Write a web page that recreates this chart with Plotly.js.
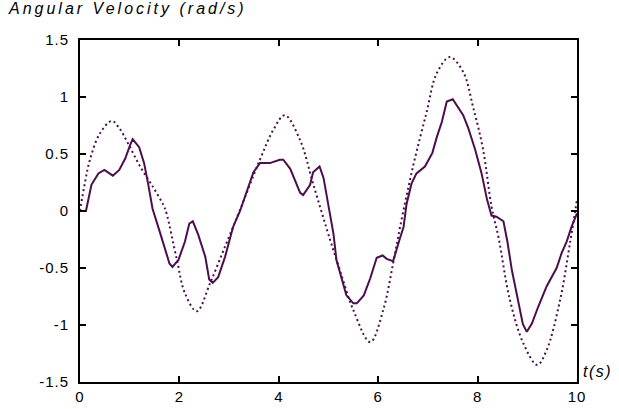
<!DOCTYPE html>
<html>
<head>
<meta charset="utf-8">
<script src="https://cdn.plot.ly/plotly-3.0.1.min.js"></script>
<style>
html,body{margin:0;padding:0;background:#fff;}
#chart{width:619px;height:409px;}
</style>
</head>
<body>
<div id="chart"></div>
<script>
// Measured angular velocity (solid)
const tMeasured = [0, 0.12, 0.23, 0.37, 0.49, 0.66, 0.79, 0.91, 1.01, 1.06, 1.19, 1.29, 1.37, 1.46, 1.61, 1.80, 1.86, 1.98, 2.11, 2.20, 2.27, 2.38, 2.52, 2.60, 2.67, 2.78, 2.92, 3.08, 3.22, 3.35, 3.49, 3.62, 3.82, 4.02, 4.09, 4.23, 4.33, 4.43, 4.49, 4.63, 4.69, 4.82, 4.90, 5.00, 5.10, 5.16, 5.36, 5.50, 5.57, 5.71, 5.84, 5.97, 6.09, 6.17, 6.30, 6.43, 6.51, 6.57, 6.67, 6.77, 6.94, 7.09, 7.18, 7.28, 7.38, 7.50, 7.61, 7.71, 7.81, 7.95, 8.08, 8.19, 8.28, 8.38, 8.52, 8.60, 8.69, 8.79, 8.91, 8.99, 9.09, 9.22, 9.39, 9.59, 9.69, 9.79, 9.89, 10.0];
const vMeasured = [0, 0, 0.23, 0.33, 0.36, 0.31, 0.36, 0.46, 0.58, 0.63, 0.56, 0.42, 0.24, 0.02, -0.19, -0.46, -0.49, -0.43, -0.27, -0.11, -0.09, -0.21, -0.40, -0.60, -0.63, -0.58, -0.40, -0.14, 0.0, 0.16, 0.34, 0.42, 0.42, 0.45, 0.45, 0.37, 0.26, 0.16, 0.14, 0.23, 0.34, 0.39, 0.29, 0.04, -0.20, -0.43, -0.74, -0.81, -0.81, -0.74, -0.59, -0.41, -0.39, -0.42, -0.44, -0.25, -0.14, 0.06, 0.24, 0.33, 0.39, 0.51, 0.65, 0.78, 0.96, 0.98, 0.91, 0.84, 0.73, 0.54, 0.33, 0.10, -0.04, -0.05, -0.09, -0.27, -0.52, -0.74, -0.99, -1.06, -0.99, -0.84, -0.66, -0.50, -0.37, -0.27, -0.14, -0.02];

// Reference angular velocity (dotted)
const tReference = [0, 0.1, 0.2, 0.4, 0.64, 0.8, 0.97, 1.21, 1.47, 1.68, 1.74, 1.95, 2.11, 2.35, 2.62, 2.92, 3.22, 3.62, 3.9, 4.12, 4.43, 4.69, 5.03, 5.23, 5.50, 5.84, 6.10, 6.30, 6.44, 6.70, 6.97, 7.18, 7.44, 7.71, 7.91, 8.11, 8.28, 8.42, 8.65, 8.92, 9.20, 9.39, 9.66, 9.86, 10.0];
const vReference = [0, 0.25, 0.45, 0.68, 0.79, 0.72, 0.59, 0.39, 0.21, 0.05, -0.02, -0.43, -0.72, -0.88, -0.63, -0.31, 0.01, 0.45, 0.72, 0.84, 0.62, 0.24, -0.25, -0.52, -0.87, -1.15, -0.87, -0.46, -0.14, 0.39, 0.86, 1.21, 1.35, 1.22, 0.91, 0.54, 0.04, -0.23, -0.78, -1.16, -1.35, -1.22, -0.78, -0.28, 0.1];

const xTicks = [0, 2, 4, 6, 8, 10];
const yTicks = [-1.5, -1, -0.5, 0, 0.5, 1, 1.5];
const yTickText = ['-1.5', '-1', '-0.5', '0', '0.5', '1', '1.5'];

const lineColor = '#4a0f4c';
const font = 'Liberation Sans, Arial, sans-serif';

const traces = [
  {x: tReference, y: vReference, mode: 'lines', line: {color: lineColor, width: 2, dash: '2px,3px', shape: 'spline', smoothing: 1}, hoverinfo: 'none'},
  {x: tMeasured, y: vMeasured, mode: 'lines', line: {color: lineColor, width: 2}, hoverinfo: 'none'}
];

const axisCommon = {
  showgrid: false, zeroline: false, showline: true, mirror: 'ticks',
  linecolor: '#000', linewidth: 2, ticks: 'inside', ticklen: 6, tickwidth: 2, tickcolor: '#000',
  tickfont: {family: font, size: 15, color: '#000'}
};

const layout = {
  width: 619, height: 409,
  margin: {l: 80, r: 42, t: 40, b: 27},
  paper_bgcolor: '#fff', plot_bgcolor: '#fff',
  showlegend: false,
  xaxis: Object.assign({}, axisCommon, {range: [0, 10], tickvals: xTicks, ticktext: xTicks.map(String)}),
  yaxis: Object.assign({}, axisCommon, {range: [-1.5, 1.5], tickvals: yTicks, ticktext: yTickText, ticklabelstandoff: 6}),
  annotations: [
    {text: '<i>Angular Velocity (rad/s)</i>', xref: 'paper', yref: 'paper', x: -0.1, y: 1.06, xanchor: 'left', yanchor: 'bottom', showarrow: false, font: {family: font, size: 16, color: '#000'}},
    {text: '<i>t(s)</i>', xref: 'paper', yref: 'paper', x: 1.01, y: 0.032, xanchor: 'left', yanchor: 'middle', showarrow: false, font: {family: font, size: 16, color: '#000'}}
  ]
};

function placeLeft(el, targetLeft) {
  const r = el.getBoundingClientRect();
  const dx = targetLeft - r.left;
  const prev = el.getAttribute('transform') || '';
  el.setAttribute('transform', 'translate(' + dx + ',0) ' + prev);
}

Plotly.newPlot('chart', traces, layout, {staticPlot: true}).then(function(gd){
  gd.querySelectorAll('.xtick text, .ytick text').forEach(function(t){ t.style.letterSpacing = '1px'; });
  const anns = gd.querySelectorAll('.annotation-text');
  if (anns[0]) { anns[0].style.letterSpacing = '3px'; placeLeft(anns[0], 8); }
  if (anns[1]) { anns[1].style.letterSpacing = '1.5px'; placeLeft(anns[1], 583); }
});
</script>
</body>
</html>
